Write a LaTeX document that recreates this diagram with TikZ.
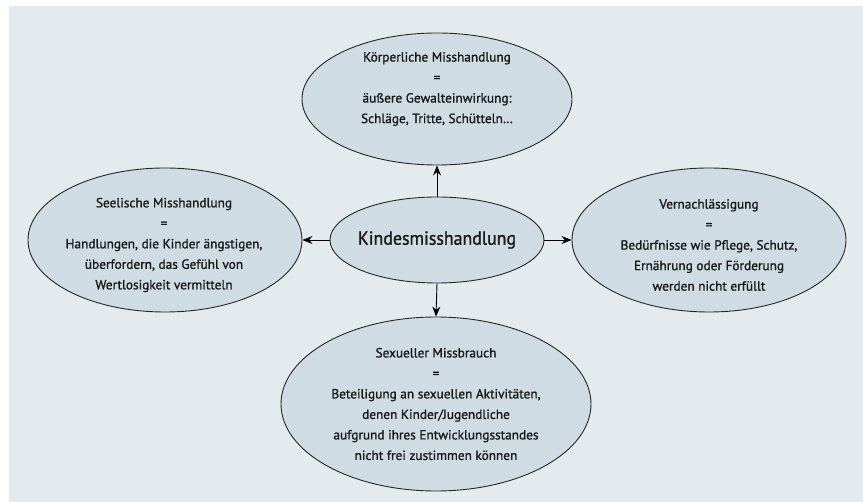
\documentclass[tikz,border=0pt]{standalone}
\usepackage{fontspec}
\setmainfont{PT Sans}[FakeBold=1.2]
\newfontfamily\kindfont{PT Sans}[FakeStretch=0.94, FakeBold=1.2]
\usetikzlibrary{shapes.geometric, arrows.meta}
\definecolor{bgblue}{HTML}{E4EBEF}
\definecolor{ellblue}{HTML}{CFDCE4}

\begin{document}
\begin{tikzpicture}[x=1pt, y=-1pt, line width=0.9pt,
    blob/.style={ellipse, draw=black!85, fill=ellblue, inner sep=0pt},
    txt/.style={align=center, inner sep=0pt, text=black!90, font=\fontsize{13.3}{20.5}\selectfont},
    arr/.style={-{Stealth[length=10pt, width=8pt]}, line width=0.9pt}]
    \useasboundingbox (0,0) rectangle (863,502);
    \fill[bgblue] (9,6) rectangle (863,502);

    % the four forms round the middle
    \node[blob, minimum width=270pt, minimum height=132pt] (koerper) at (437,99) {};
    \node[blob, minimum width=274pt, minimum height=144pt] (seele) at (165,240) {};
    \node[blob, minimum width=274pt, minimum height=144pt] (vernach) at (709,240) {};
    \node[blob, minimum width=310pt, minimum height=174pt] (sexuell) at (436,404) {};
    \node[blob, minimum width=214pt, minimum height=86pt] (kind) at (437,240) {};

    \node[txt] (koerpertxt) at (437,89) {Körperliche Misshandlung\\=\\äußere Gewalteinwirkung:\\Schläge, Tritte, Schütteln…};
    \node[txt] (seeletxt) at (164,245) {Seelische Misshandlung\\=\\Handlungen, die Kinder ängstigen,\\überfordern, das Gefühl von\\Wertlosigkeit vermitteln};
    \node[txt] (vernachtxt) at (709,245) {Vernachlässigung\\=\\Bedürfnisse wie Pflege, Schutz,\\Ernährung oder Förderung\\werden nicht erfüllt};
    \node[txt] (sexuelltxt) at (436,404) {Sexueller Missbrauch\\=\\Beteiligung an sexuellen Aktivitäten,\\denen Kinder/Jugendliche\\aufgrund ihres Entwicklungsstandes\\nicht frei zustimmen können};
    \node[txt, font=\fontsize{19}{24}\selectfont\kindfont] (kindtxt) at (437,240) {Kindesmisshandlung};

    \draw[arr] (kind.north) -- (koerper.south);
    \draw[arr] (kind.west) -- (seele.east);
    \draw[arr] (kind.east) -- (vernach.west);
    \draw[arr] (kind.south) -- (sexuell.north);
\end{tikzpicture}
\end{document}
